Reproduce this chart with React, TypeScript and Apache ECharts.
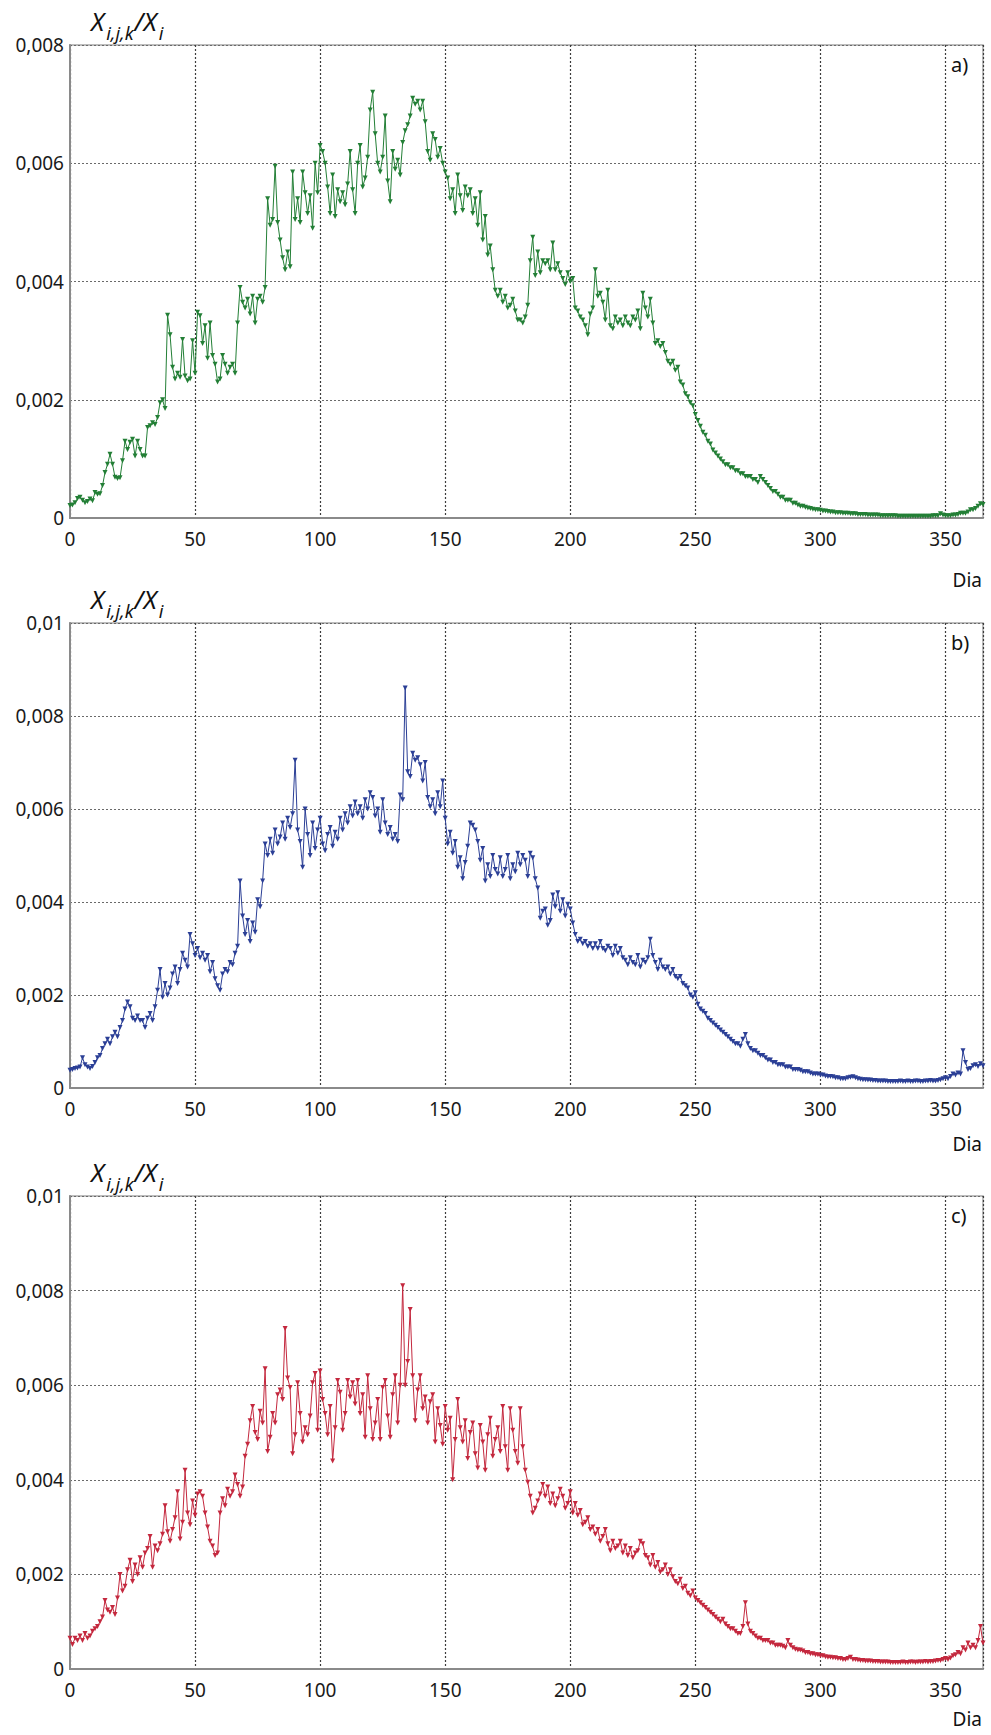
import React, { useEffect, useRef } from "react";
import * as echarts from "echarts";

// Values in units of 1e-4 (X_{i,j,k}/X_i × 10^4), one per day 0..365
const seriesA = [
  2.1, 2.2, 2.6, 3.3, 3.5, 3.0, 2.6, 2.8, 3.2, 2.9,
  4.3, 4.0, 4.1, 5.5, 7.7, 9.1, 10.8, 9.1, 6.9, 6.7,
  6.8, 9.7, 13.0, 11.6, 12.8, 13.3, 10.5, 13.0, 11.6, 10.5,
  10.5, 15.3, 15.6, 16.1, 15.8, 17.0, 19.5, 20.0, 18.5, 34.3,
  31.0, 25.5, 23.5, 24.5, 23.8, 30.2, 24.0, 23.2, 23.5, 30.0,
  24.5, 34.8, 34.2, 29.5, 32.5, 27.0, 33.0, 27.5, 26.0, 23.0,
  23.5, 27.5, 26.0, 24.5, 25.5, 26.0, 24.5, 33.0, 39.0, 36.5,
  35.5, 37.0, 34.5, 37.5, 33.0, 37.0, 37.5, 36.5, 39.0, 54.0,
  49.5, 50.5, 59.5, 50.0, 47.0, 44.0, 42.0, 45.0, 42.5, 58.5,
  50.5, 54.0, 50.0, 58.5, 55.0, 51.5, 54.5, 49.0, 60.0, 55.0,
  63.0, 62.0, 60.0, 56.0, 51.5, 58.0, 51.0, 55.5, 53.5, 55.0,
  53.0, 56.5, 62.0, 55.5, 51.5, 60.0, 63.0, 56.0, 57.5, 61.0,
  69.0, 72.0, 65.0, 60.0, 58.5, 61.0, 68.0, 57.0, 53.5, 62.0,
  59.0, 60.5, 58.0, 63.5, 65.5, 66.5, 68.0, 71.0, 70.0, 70.5,
  69.0, 70.5, 67.0, 62.0, 60.5, 65.0, 64.0, 61.0, 62.5, 60.0,
  58.5, 57.5, 54.0, 55.5, 51.5, 58.0, 54.5, 52.0, 56.0, 54.5,
  55.5, 51.5, 54.0, 49.5, 55.0, 47.0, 51.0, 44.5, 46.0, 42.0,
  38.5, 37.5, 38.5, 36.5, 37.5, 35.5, 36.0, 37.0, 35.0, 33.5,
  33.5, 33.0, 34.0, 36.0, 43.5, 47.5, 41.0, 45.0, 41.5, 43.5,
  43.0, 43.5, 42.0, 46.5, 42.0, 43.0, 41.5, 40.5, 39.5, 41.5,
  40.0, 40.5, 35.5, 35.0, 34.0, 33.5, 32.5, 31.0, 34.5, 35.5,
  42.0, 37.5, 38.0, 36.5, 33.5, 38.5, 32.5, 32.0, 34.0, 33.0,
  33.5, 32.5, 34.0, 33.0, 32.5, 34.0, 33.5, 35.0, 32.0, 38.0,
  35.5, 34.0, 37.0, 33.0, 29.5, 30.0, 29.0, 29.5, 28.0, 26.5,
  26.0, 26.5, 25.0, 25.5, 23.0, 22.5, 21.0, 20.5, 19.5, 19.0,
  17.5, 16.5, 15.5, 14.5, 14.0, 13.0, 12.5, 11.5, 11.0, 10.5,
  10.0, 9.5, 9.0, 9.0, 8.5, 8.5, 8.0, 8.0, 7.5, 7.5,
  7.0, 7.0, 7.0, 6.5, 6.5, 6.0, 7.0, 6.5, 6.0, 5.5,
  5.0, 4.5, 4.5, 4.0, 3.5, 3.5, 3.0, 3.0, 3.0, 2.5,
  2.5, 2.2, 2.0, 2.0, 1.8, 1.7, 1.6, 1.5, 1.4, 1.4,
  1.3, 1.2, 1.2, 1.1, 1.0, 1.0, 0.9, 0.9, 0.9, 0.8,
  0.8, 0.8, 0.7, 0.7, 0.7, 0.6, 0.6, 0.6, 0.6, 0.5,
  0.5, 0.5, 0.5, 0.5, 0.4, 0.4, 0.4, 0.4, 0.4, 0.4,
  0.4, 0.3, 0.3, 0.3, 0.3, 0.3, 0.3, 0.3, 0.3, 0.3,
  0.3, 0.3, 0.3, 0.3, 0.3, 0.4, 0.4, 0.4, 0.7, 0.5,
  0.4, 0.4, 0.4, 0.5, 0.5, 0.6, 0.8, 0.8, 0.8, 1.0,
  1.4, 1.4, 1.6, 2.0, 2.4, 2.3,
];

const seriesB = [
  3.8, 4.0, 4.2, 4.3, 4.5, 6.5, 5.0, 4.5, 4.2, 4.6,
  5.5, 6.5, 7.0, 8.5, 9.5, 10.5, 9.5, 11.0, 12.0, 11.0,
  13.0, 14.5, 17.0, 18.5, 17.5, 15.0, 14.5, 15.5, 14.5, 14.5,
  13.0, 15.0, 16.0, 14.5, 17.5, 21.0, 25.5, 19.5, 22.5, 20.0,
  21.5, 24.5, 26.0, 22.5, 25.5, 29.0, 27.5, 26.0, 33.0, 31.0,
  28.5, 30.0, 28.0, 29.0, 27.5, 28.5, 25.0, 27.0, 23.5, 22.0,
  21.0, 24.5, 25.5, 25.0, 27.0, 26.5, 29.0, 30.5, 44.5, 37.0,
  33.0, 36.0, 31.5, 35.5, 33.5, 40.5, 39.0, 44.5, 52.5, 50.0,
  53.5, 50.5, 55.5, 52.5, 54.0, 57.0, 53.5, 58.0, 56.0, 59.0,
  70.5, 55.5, 53.0, 47.5, 60.0, 54.5, 50.0, 57.0, 51.5, 55.5,
  58.0, 52.5, 51.0, 54.5, 56.0, 52.0, 55.0, 53.5, 58.0, 55.5,
  59.0, 57.0, 60.5, 58.5, 61.5, 59.0, 60.5, 58.0, 62.0, 60.0,
  63.5, 62.5, 58.5, 60.0, 55.0, 62.0, 57.0, 54.5, 56.0, 53.5,
  54.5, 53.0, 63.0, 62.0, 86.0, 68.0, 67.0, 72.0, 70.5, 71.0,
  69.5, 66.0, 70.0, 62.5, 60.5, 62.0, 59.0, 63.5, 60.5, 66.0,
  58.0, 52.5, 55.0, 50.5, 53.0, 47.5, 49.5, 45.0, 48.5, 52.0,
  57.0, 56.5, 55.5, 53.0, 49.0, 51.5, 44.5, 48.0, 45.5, 50.0,
  47.0, 46.0, 49.5, 45.5, 47.0, 50.0, 45.0, 48.0, 46.5, 50.5,
  48.0, 50.0, 49.0, 45.5, 50.5, 49.5, 45.0, 43.0, 36.5, 38.0,
  38.5, 35.0, 36.0, 41.5, 39.0, 42.0, 38.0, 40.5, 37.0, 39.5,
  38.5, 35.5, 33.0, 31.5, 32.0, 31.0, 31.5, 30.5, 31.0, 30.0,
  31.0, 30.0, 31.5, 30.0, 29.5, 30.5, 30.0, 28.5, 30.5, 29.0,
  30.0, 28.0, 27.5, 26.5, 28.0, 27.0, 26.5, 28.5, 26.0, 27.5,
  27.0, 28.0, 32.0, 28.5, 27.0, 25.5, 27.5, 26.0, 25.5, 26.0,
  24.5, 25.5, 24.0, 23.5, 24.0, 22.5, 22.0, 21.5, 20.0, 19.5,
  20.5, 18.0, 17.0, 16.5, 16.0, 15.0, 14.5, 14.0, 13.5, 13.0,
  12.5, 12.0, 11.5, 11.0, 10.5, 10.0, 9.5, 9.5, 9.0, 10.5,
  11.5, 9.5, 8.5, 8.0, 8.0, 7.5, 7.0, 7.0, 6.5, 6.0,
  6.0, 5.5, 5.5, 5.0, 5.0, 5.0, 4.5, 4.5, 4.5, 4.0,
  4.0, 4.0, 3.8, 3.5, 3.5, 3.5, 3.2, 3.0, 3.0, 3.0,
  2.8, 2.8, 2.6, 2.5, 2.5, 2.4, 2.2, 2.2, 2.0, 2.0,
  2.0, 2.2, 2.3, 2.4, 2.2, 2.0, 1.9, 1.8, 1.8, 1.7,
  1.7, 1.6, 1.6, 1.5, 1.5, 1.5, 1.5, 1.4, 1.4, 1.4,
  1.4, 1.4, 1.5, 1.4, 1.4, 1.5, 1.4, 1.4, 1.5, 1.5,
  1.4, 1.4, 1.5, 1.5, 1.6, 1.5, 1.5, 1.6, 1.8, 2.0,
  2.2, 2.0, 2.5, 3.0, 2.8, 3.2, 3.0, 8.0, 5.5, 4.0,
  4.2, 4.8, 5.0, 4.6, 5.2, 4.8,
];

const seriesC = [
  6.5, 5.2, 6.5, 6.0, 7.0, 6.0, 7.5, 6.5, 7.0, 8.0,
  8.5, 9.0, 10.0, 11.0, 14.5, 12.5, 12.0, 13.0, 11.5, 15.0,
  20.0, 16.5, 17.5, 21.0, 23.0, 18.5, 22.0, 20.0, 23.5, 21.5,
  24.5, 25.5, 28.0, 21.5, 26.0, 25.0, 26.5, 28.5, 34.5, 29.0,
  27.0, 29.5, 32.0, 37.5, 27.5, 31.0, 42.0, 33.0, 30.5, 35.5,
  32.5, 37.0, 37.5, 36.5, 33.0, 30.0, 27.0, 26.0, 24.0, 24.5,
  33.0, 36.0, 34.5, 38.0, 36.5, 37.5, 41.0, 39.0, 36.5, 38.5,
  45.0, 47.5, 52.5, 55.5, 50.0, 48.5, 54.5, 52.0, 63.5, 46.0,
  49.0, 54.0, 52.0, 58.0, 59.0, 57.0, 72.0, 61.5, 59.5, 45.5,
  49.5, 60.5, 54.0, 48.0, 51.0, 49.5, 53.5, 60.5, 62.5, 50.5,
  63.0, 57.0, 54.0, 49.5, 55.5, 44.0, 51.0, 61.0, 58.5, 50.5,
  54.0, 61.0, 57.5, 60.5, 56.0, 61.0, 54.0, 58.0, 49.0, 62.0,
  55.0, 48.5, 52.0, 57.0, 48.5, 59.5, 61.0, 53.5, 49.0, 58.0,
  62.0, 52.0, 60.0, 81.0, 60.0, 65.0, 76.0, 62.0, 52.5, 59.0,
  62.0, 55.0, 57.5, 52.0, 56.5, 58.0, 48.0, 55.0, 51.5, 47.5,
  55.5, 50.5, 53.0, 40.0, 48.5, 57.0, 51.0, 48.0, 52.5, 44.5,
  50.0, 52.0, 45.5, 42.5, 51.5, 48.0, 42.0, 49.5, 53.0, 45.0,
  48.5, 51.0, 46.0, 55.5, 47.0, 42.0, 55.0, 50.5, 46.0, 43.5,
  55.0, 47.0, 42.0, 39.5, 36.5, 33.0, 34.0, 35.5, 37.0, 39.0,
  36.5, 38.5, 35.0, 37.0, 34.5, 36.0, 38.0, 36.5, 34.0, 35.0,
  37.5, 33.0, 35.0, 32.5, 33.5, 30.5, 31.0, 32.0, 29.5, 30.0,
  28.5, 29.5, 27.0, 28.0, 29.5, 26.5, 25.0, 27.0, 25.5, 26.0,
  27.0, 24.5, 26.0, 24.0, 25.5, 23.5, 24.5, 25.0, 27.0, 26.5,
  24.0, 23.5, 22.0, 24.0, 21.5, 22.5, 20.5, 21.0, 22.0, 20.0,
  21.0, 19.5, 18.5, 18.0, 19.0, 17.0, 17.5, 16.0, 15.5, 16.5,
  15.0, 14.5, 14.0, 13.5, 13.0, 12.5, 12.0, 11.5, 11.0, 10.5,
  10.0, 10.5, 9.5, 9.0, 8.5, 8.5, 8.0, 7.5, 7.5, 9.0,
  14.0, 9.5, 8.0, 7.5, 7.0, 6.5, 6.5, 6.0, 6.0, 6.0,
  5.5, 5.5, 5.0, 5.0, 5.0, 4.8, 4.5, 6.0, 5.0, 4.5,
  4.2, 4.0, 4.0, 3.8, 3.5, 3.5, 3.2, 3.2, 3.0, 3.0,
  2.8, 2.8, 2.6, 2.5, 2.5, 2.4, 2.4, 2.2, 2.2, 2.0,
  2.0, 2.2, 2.5, 2.0, 2.0, 1.9, 1.8, 1.8, 1.7, 1.7,
  1.7, 1.6, 1.6, 1.6, 1.5, 1.5, 1.5, 1.5, 1.4, 1.4,
  1.4, 1.4, 1.4, 1.5, 1.4, 1.4, 1.5, 1.5, 1.4, 1.5,
  1.5, 1.5, 1.6, 1.5, 1.6, 1.6, 1.7, 1.8, 1.8, 2.0,
  2.2, 2.0, 2.3, 2.8, 3.0, 3.5, 3.2, 4.5, 4.0, 5.5,
  4.5, 5.0, 4.5, 6.0, 9.0, 5.5,
];

const panelLetters = ["a)", "b)", "c)"];
const panelColors = ["#237f36", "#2b3f96", "#c4283e"];
const panelYMax = [0.008, 0.01, 0.01];
const yTickStep = 0.002;
const xTickStep = 50;
const xMax = 365;
const xAxisTitle = "Dia";

const FONT = "'Noto Sans', 'Open Sans', sans-serif";
const PLOT_LEFT = 70;
const PLOT_WIDTH = 913;
const panelTops = [45, 623, 1196];
const panelHeights = [473, 465, 473];
const diaTops = [570, 1134, 1709];

function fmtY(v: number): string {
  if (Math.abs(v) < 1e-12) return "0";
  return String(parseFloat(v.toFixed(4))).replace(".", ",");
}

export default function App() {
  const ref = useRef<HTMLDivElement>(null);

  useEffect(() => {
    document.body.style.margin = "0";
    if (!ref.current) return;
    const chart = echarts.init(ref.current, undefined, { renderer: "svg" });
    const all = [seriesA, seriesB, seriesC];

    const grids = panelTops.map((top, i) => ({
      left: PLOT_LEFT,
      top,
      width: PLOT_WIDTH,
      height: panelHeights[i],
      show: true,
      borderColor: "#a8a8a8",
      borderWidth: 1.5,
      backgroundColor: "transparent",
    }));

    const xAxes = panelTops.map((_, i) => ({
      type: "value",
      gridIndex: i,
      min: 0,
      max: xMax,
      interval: xTickStep,
      axisLine: { show: true, lineStyle: { color: "#8a8a8a", width: 2 } },
      axisTick: { show: false },
      axisLabel: {
        fontSize: 19,
        color: "#1a1a1a",
        fontFamily: FONT,
        margin: 11,
        formatter: (v: number) => (v % xTickStep === 0 ? String(v) : ""),
      },
      splitLine: { show: true, lineStyle: { color: "#3c3c3c", width: 1.2, type: [2, 2] } },
    }));

    const yAxes = panelTops.map((_, i) => ({
      type: "value",
      gridIndex: i,
      min: 0,
      max: panelYMax[i],
      interval: yTickStep,
      axisLine: { show: true, lineStyle: { color: "#8a8a8a", width: 2 } },
      axisTick: { show: false },
      axisLabel: {
        fontSize: 19,
        color: "#1a1a1a",
        fontFamily: FONT,
        margin: 6,
        formatter: fmtY,
      },
      splitLine: { show: true, lineStyle: { color: "#6a6a6a", width: 1, type: [2, 2] } },
    }));

    const series = all.map((arr, i) => ({
      type: "line",
      xAxisIndex: i,
      yAxisIndex: i,
      data: arr.map((v, d) => [d, v / 10000]),
      symbol: "triangle",
      symbolRotate: 180,
      symbolSize: 5,
      showSymbol: true,
      lineStyle: { color: panelColors[i], width: 1 },
      itemStyle: { color: panelColors[i] },
      z: 3,
    }));

    const graphics: any[] = [];
    panelTops.forEach((top, i) => {
      graphics.push({
        type: "text",
        left: 91,
        top: top - 45,
        style: {
          text: "{x|X}{s|i,j,k}{x|/X}{s|i}",
          fill: "#111",
          rich: {
            x: { fontSize: 25, fontStyle: "italic", fontFamily: FONT, fill: "#111", lineHeight: 30 },
            s: { fontSize: 18, fontStyle: "italic", fontFamily: FONT, fill: "#111", lineHeight: 18, padding: [24, 1, 0, 2] },
          },
        },
      });
      graphics.push({
        type: "text",
        left: 951,
        top: top + 9,
        style: { text: panelLetters[i], fontSize: 20, fontFamily: FONT, fill: "#111" },
      });
      graphics.push({
        type: "text",
        right: 9,
        top: diaTops[i],
        style: { text: xAxisTitle, fontSize: 19, fontFamily: FONT, fill: "#111" },
      });
    });

    chart.setOption({
      animation: false,
      backgroundColor: "#ffffff",
      grid: grids,
      xAxis: xAxes,
      yAxis: yAxes,
      series,
      graphic: graphics,
    });

    return () => chart.dispose();
  }, []);

  return <div ref={ref} style={{ width: 991, height: 1735 }} />;
}
